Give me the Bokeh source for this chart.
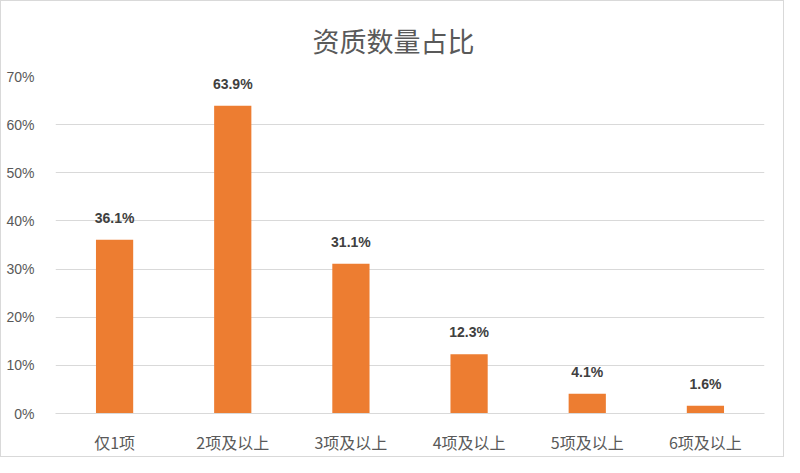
from bokeh.plotting import figure
from bokeh.models import ColumnDataSource, NumeralTickFormatter, FixedTicker, Title, LabelSet
from bokeh.core.properties import value
from bokeh.embed import file_html
from bokeh.resources import INLINE

categories = ["仅1项", "2项及以上", "3项及以上", "4项及以上", "5项及以上", "6项及以上"]
shares = [36.1, 63.9, 31.1, 12.3, 4.1, 1.6]
labels = [f"{v:.1f}%" for v in shares]
yticks = [0, 0.1, 0.2, 0.3, 0.4, 0.5, 0.6, 0.7]

src = ColumnDataSource(dict(cat=categories, val=[v / 100 for v in shares], lab=labels))

p = figure(x_range=categories, y_range=(0, 0.7), width=784, height=457,
           output_backend="svg", toolbar_location=None,
           min_border_left=54, min_border_right=21, min_border_top=75, min_border_bottom=45)
p.styles = {"border": "1px solid #d9d9d9"}
p.background_fill_color = "white"
p.border_fill_color = "white"
p.outline_line_color = None

t = Title(text="资质数量占比", align="left", text_font="Noto Sans CJK SC",
          text_font_size="27px", text_color="#595959", text_font_style="normal",
          standoff=33, offset=257)
p.add_layout(t, "above")

p.vbar(x="cat", top="val", width=0.315, source=src, color="#ED7D31", line_color=None)

p.add_layout(LabelSet(x="cat", y="val", text="lab", source=src, text_align="center",
                      text_baseline="bottom", y_offset=14,
                      text_font=value("Liberation Sans"),
                      text_font_size=value("14px"), text_font_style=value("bold"),
                      text_color=value("#404040")))

p.xgrid.grid_line_color = None
p.ygrid.grid_line_color = "#d9d9d9"
p.ygrid.grid_line_width = 1
p.yaxis.ticker = FixedTicker(ticks=yticks)
p.yaxis.formatter = NumeralTickFormatter(format="0%")
p.yaxis.axis_line_color = None
p.yaxis.major_tick_line_color = None
p.yaxis.minor_tick_line_color = None
p.yaxis.major_label_standoff = 15
p.yaxis.major_label_text_font = "Liberation Sans"
p.yaxis.major_label_text_font_size = "14px"
p.yaxis.major_label_text_color = "#595959"

p.xaxis.axis_line_color = "#d9d9d9"
p.xaxis.major_tick_line_color = None
p.xaxis.minor_tick_line_color = None
p.xaxis.major_label_standoff = 10
p.xaxis.major_label_text_font = "Noto Sans CJK SC"
p.xaxis.major_label_text_font_size = "16px"
p.xaxis.major_label_text_color = "#595959"

open("out.html", "w").write(file_html(p, INLINE))
